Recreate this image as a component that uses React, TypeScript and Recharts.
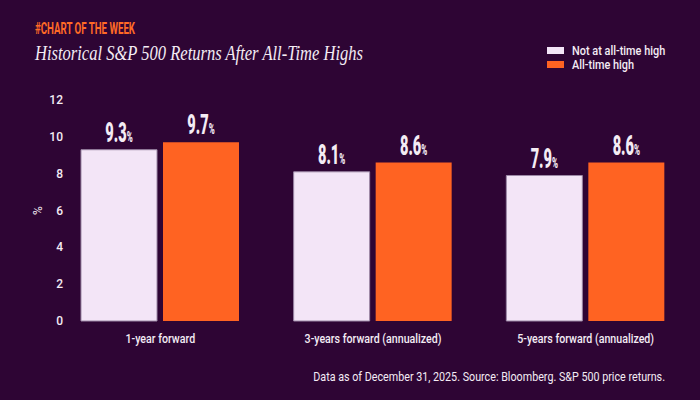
import React from 'react';
import { BarChart, Bar, XAxis, YAxis, LabelList } from 'recharts';

const categories = ['1-year forward', '3-years forward (annualized)', '5-years forward (annualized)'];
const notAtHigh = [9.3, 8.1, 7.9];
const atHigh = [9.7, 8.6, 8.6];
const yTicks = [0, 2, 4, 6, 8, 10, 12];

const seriesNames = ['Not at all-time high', 'All-time high'];
const seriesColors = ['#f3e5f7', '#ff6322'];

const data = categories.map((name, i) => ({ name, notAtHigh: notAtHigh[i], atHigh: atHigh[i] }));

const BG = '#2e0534';
const TEXT = '#f4ecf4';
const SANS = 'Roboto, sans-serif';

function ValueLabel(props: any) {
  const { x, y, width, value } = props;
  const cx = x + width / 2;
  const baseY = y - 8;
  return (
    <g transform={`translate(${cx},${baseY}) scale(0.54,1)`}>
      <text x={0} y={0} textAnchor="middle" fill={TEXT} fontFamily={SANS} fontWeight={900} fontSize={27}>
        {value.toFixed(1)}
        <tspan fontSize={15}>%</tspan>
      </text>
    </g>
  );
}

function YTick(props: any) {
  const { x, y, payload } = props;
  return (
    <text x={x + 17} y={y + 4} textAnchor="end" fill={TEXT} fontFamily={SANS} fontWeight={500} fontSize={12}>
      {payload.value}
    </text>
  );
}

function XTick(props: any) {
  const { x, y, payload } = props;
  return (
    <g transform={`translate(${x},${y + 14}) scale(0.82,1)`}>
      <text x={0} y={0} textAnchor="middle" fill={TEXT} fontFamily={SANS} fontWeight={500} fontSize={13}>
        {payload.value}
      </text>
    </g>
  );
}

export default function App() {
  return (
    <div style={{ position: 'absolute', left: 0, top: 0, width: 700, height: 400, background: BG, overflow: 'hidden' }}>
      <svg width={700} height={400} style={{ position: 'absolute', left: 0, top: 0 }}>
        <text x={35} y={34} fill="#ff6a26" fontFamily={SANS} fontWeight={700} fontSize={17} textLength={100} lengthAdjust="spacingAndGlyphs">
          #CHART OF THE WEEK
        </text>
        <text x={35} y={60} fill={TEXT} fontFamily="'Liberation Serif', serif" fontStyle="italic" fontSize={20} textLength={328} lengthAdjust="spacingAndGlyphs">
          Historical S&amp;P 500 Returns After All-Time Highs
        </text>
        {seriesNames.map((n, i) => (
          <g key={n}>
            <rect x={547} y={47 + i * 14} width={17} height={7} fill={seriesColors[i]} />
            <g transform={`translate(572,${54.5 + i * 14}) scale(0.84,1)`}>
              <text x={0} y={0} fill={TEXT} fontFamily={SANS} fontWeight={500} fontSize={13}>
                {n}
              </text>
            </g>
          </g>
        ))}
        <g transform="translate(665,381) scale(0.86,1)">
          <text x={0} y={0} textAnchor="end" fill={TEXT} fontFamily={SANS} fontSize={12.5}>
            Data as of December 31, 2025. Source: Bloomberg. S&amp;P 500 price returns.
          </text>
        </g>
      </svg>
      <div style={{ position: 'absolute', left: 0, top: 0 }}>
        <BarChart width={700} height={400} data={data} margin={{ top: 100, right: 8, bottom: 49, left: 8 }} barSize={76} barGap={6}>
          <XAxis dataKey="name" axisLine={false} tickLine={false} tick={<XTick />} interval={0} height={30} />
          <YAxis
            width={46}
            domain={[0, 12]}
            ticks={yTicks}
            axisLine={false}
            tickLine={false}
            tick={<YTick />}
            label={(p: any) => {
              const vb = p.viewBox;
              const cx = vb.x + 30;
              const cy = vb.y + vb.height / 2;
              return (
                <text x={cx} y={cy} transform={`rotate(-90 ${cx} ${cy})`} textAnchor="middle" dominantBaseline="central" fill={TEXT} fontFamily={SANS} fontSize={12}>
                  %
                </text>
              );
            }}
          />
          <Bar dataKey="notAtHigh" fill={seriesColors[0]} stroke="#9c88a6" strokeWidth={1} isAnimationActive={false}>
            <LabelList dataKey="notAtHigh" content={<ValueLabel />} />
          </Bar>
          <Bar dataKey="atHigh" fill={seriesColors[1]} isAnimationActive={false}>
            <LabelList dataKey="atHigh" content={<ValueLabel />} />
          </Bar>
        </BarChart>
      </div>
    </div>
  );
}
